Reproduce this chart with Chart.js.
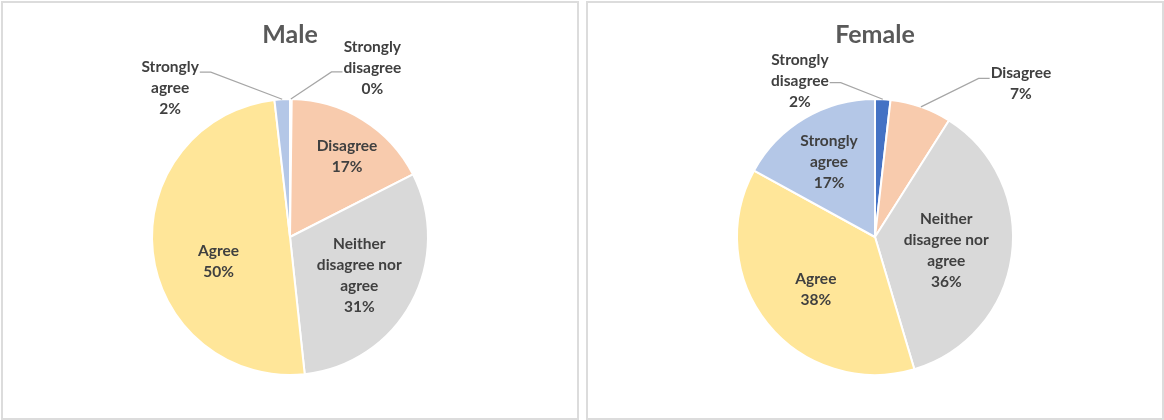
<!DOCTYPE html>
<html>
<head>
<meta charset="utf-8">
<script src="https://cdn.jsdelivr.net/npm/chart.js@4.4.1/dist/chart.umd.min.js"></script>
<style>
  body { margin: 0; background: #fff; width: 1164px; height: 420px; overflow: hidden; }
  .panel { position: absolute; top: 1px; width: 578px; height: 419px; box-sizing: border-box; border: 2px solid #dcdcdc; }
  #malePanel { left: 1px; }
  #femalePanel { left: 586px; }
  canvas { display: block; }
</style>
</head>
<body>
<div class="panel" id="malePanel"><canvas id="maleChart" width="574" height="415"></canvas></div>
<div class="panel" id="femalePanel"><canvas id="femaleChart" width="574" height="415"></canvas></div>
<script>
const categories = ['Strongly disagree', 'Disagree', 'Neither disagree nor agree', 'Agree', 'Strongly agree'];
const maleValues = [0.2, 17.3, 30.8, 49.9, 1.8];
const femaleValues = [1.8, 7.2, 36.4, 37.6, 17];
const sliceColors = ['#4472C4', '#F8CBAD', '#D9D9D9', '#FFE699', '#B4C7E7'];

// label placement relative to each slice: r = fraction of radius, da = degrees off the mid angle,
// out = drawn outside with a leader line, ly = leader attach offset from block centre
const maleLabelPos = [
  { r: 1.363, da: 25.6, out: true, ly: 4 },
  { r: 0.712, da: 3.6 },
  { r: 0.574, da: 0.5 },
  { r: 0.547, da: -12.4 },
  { r: 1.385, da: -35.6, out: true, ly: -16 }
];
const femaleLabelPos = [
  { r: 1.257, da: -28.9, out: true, ly: 2 },
  { r: 1.535, da: 24.1, out: true, ly: -5 },
  { r: 0.525, da: 2.5 },
  { r: 0.571, da: -2.5 },
  { r: 0.638, da: -0.9 }
];

const labelFont = 'bold 15.5px Lato';
const lineH = 21;

function wrap(ctx, text, maxW) {
  let words = text.split(' ');
  let lines = [];
  let cur = '';
  words.forEach(w => {
    let test = cur ? cur + ' ' + w : w;
    if (cur && ctx.measureText(test).width > maxW) {
      lines.push(cur);
      cur = w;
    } else {
      cur = test;
    }
  });
  if (cur) lines.push(cur);
  return lines;
}

const sliceLabels = {
  id: 'sliceLabels',
  afterDatasetsDraw(chart, args, opts) {
    const ctx = chart.ctx;
    const meta = chart.getDatasetMeta(0);
    const data = chart.data.datasets[0].data;
    const total = data.reduce((a, b) => a + b, 0);
    ctx.save();
    ctx.font = labelFont;
    ctx.textAlign = 'center';
    ctx.textBaseline = 'middle';
    meta.data.forEach((arc, i) => {
      const p = arc.getProps(['x', 'y', 'startAngle', 'endAngle', 'outerRadius'], true);
      const pos = opts.pos[i];
      const mid = (p.startAngle + p.endAngle) / 2;
      const a = mid + pos.da * Math.PI / 180;
      const cx = p.x + Math.cos(a) * pos.r * p.outerRadius;
      const cy = p.y + Math.sin(a) * pos.r * p.outerRadius;
      const lines = wrap(ctx, chart.data.labels[i], 95);
      lines.push(Math.round(data[i] / total * 100) + '%');
      const blockW = Math.max(...lines.map(l => ctx.measureText(l).width));
      if (pos.out) {
        const ax = p.x + Math.cos(mid) * p.outerRadius;
        const ay = p.y + Math.sin(mid) * p.outerRadius;
        const side = cx > ax ? -1 : 1;
        const ex = cx + side * (blockW / 2 + 1);
        const ey = cy + pos.ly;
        ctx.strokeStyle = '#A6A6A6';
        ctx.lineWidth = 1.2;
        ctx.beginPath();
        ctx.moveTo(ex, ey);
        ctx.lineTo(ex + side * 11, ey);
        ctx.lineTo(ax, ay);
        ctx.stroke();
      }
      ctx.fillStyle = '#404040';
      const top = cy - (lines.length - 1) * lineH / 2;
      lines.forEach((l, k) => ctx.fillText(l, cx, top + k * lineH));
    });
    ctx.restore();
  }
};

function makePie(canvasId, title, values, labelPos) {
  return new Chart(document.getElementById(canvasId), {
    type: 'pie',
    data: {
      labels: categories,
      datasets: [{
        data: values,
        backgroundColor: sliceColors,
        borderColor: '#ffffff',
        borderWidth: 2
      }]
    },
    options: {
      responsive: false,
      animation: false,
      devicePixelRatio: 1,
      layout: { padding: { top: 0, bottom: 42, left: 0, right: 0 } },
      plugins: {
        legend: { display: false },
        tooltip: { enabled: false },
        title: {
          display: true,
          text: title,
          color: '#595959',
          font: { family: 'Lato', size: 25, weight: 'bold', lineHeight: 1.2 },
          padding: { top: 17, bottom: 48 }
        },
        sliceLabels: { pos: labelPos }
      }
    },
    plugins: [sliceLabels]
  });
}

let maleChart = makePie('maleChart', 'Male', maleValues, maleLabelPos);
let femaleChart = makePie('femaleChart', 'Female', femaleValues, femaleLabelPos);
</script>
</body>
</html>
